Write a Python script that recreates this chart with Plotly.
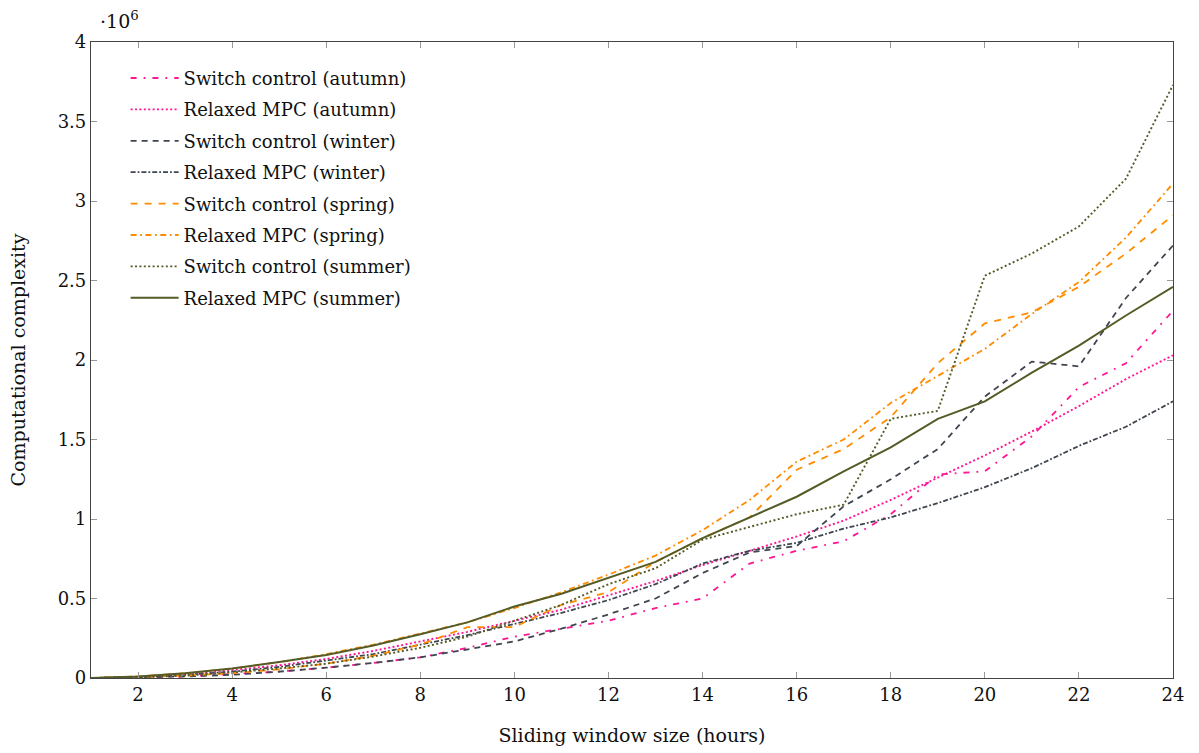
import plotly.graph_objects as go

hours = list(range(1, 25))

# values in units of 10^6
autumn_switch = [0, 0.003, 0.01, 0.025, 0.04, 0.065, 0.095, 0.13, 0.19, 0.26, 0.31, 0.36, 0.44, 0.50,
                 0.72, 0.80, 0.86, 1.03, 1.28, 1.30, 1.52, 1.83, 1.98, 2.31]
autumn_relaxed = [0, 0.005, 0.02, 0.05, 0.08, 0.12, 0.17, 0.23, 0.29, 0.36, 0.43, 0.52, 0.61, 0.71,
                  0.80, 0.89, 0.99, 1.12, 1.26, 1.40, 1.55, 1.71, 1.88, 2.03]
winter_switch = [0, 0.003, 0.01, 0.02, 0.04, 0.065, 0.095, 0.13, 0.18, 0.23, 0.31, 0.40, 0.50, 0.66,
                 0.79, 0.83, 1.08, 1.25, 1.44, 1.77, 1.99, 1.96, 2.39, 2.72]
winter_relaxed = [0, 0.005, 0.02, 0.04, 0.07, 0.11, 0.15, 0.21, 0.27, 0.34, 0.41, 0.49, 0.59, 0.72,
                  0.80, 0.85, 0.94, 1.01, 1.10, 1.20, 1.32, 1.46, 1.58, 1.74]
spring_switch = [0, 0.005, 0.015, 0.03, 0.055, 0.09, 0.14, 0.21, 0.32, 0.32, 0.46, 0.54, 0.73, 0.88,
                 1.01, 1.31, 1.44, 1.64, 1.98, 2.23, 2.30, 2.46, 2.67, 2.91]
spring_relaxed = [0, 0.01, 0.03, 0.06, 0.10, 0.15, 0.21, 0.28, 0.35, 0.44, 0.54, 0.65, 0.77, 0.93,
                  1.12, 1.36, 1.50, 1.73, 1.90, 2.07, 2.29, 2.49, 2.77, 3.11]
summer_switch = [0, 0.005, 0.015, 0.035, 0.06, 0.09, 0.135, 0.19, 0.26, 0.36, 0.46, 0.59, 0.69, 0.87,
                 0.95, 1.03, 1.09, 1.63, 1.68, 2.53, 2.67, 2.84, 3.14, 3.73]
summer_relaxed = [0, 0.01, 0.03, 0.06, 0.10, 0.145, 0.205, 0.275, 0.35, 0.45, 0.53, 0.63, 0.73, 0.88,
                  1.01, 1.14, 1.30, 1.45, 1.63, 1.74, 1.92, 2.09, 2.28, 2.46]

series_names = ["Switch control (autumn)", "Relaxed MPC (autumn)",
                "Switch control (winter)", "Relaxed MPC (winter)",
                "Switch control (spring)", "Relaxed MPC (spring)",
                "Switch control (summer)", "Relaxed MPC (summer)"]
series_values = [autumn_switch, autumn_relaxed, winter_switch, winter_relaxed,
                 spring_switch, spring_relaxed, summer_switch, summer_relaxed]

x_ticks = list(range(2, 25, 2))
y_ticks = [0, 0.5, 1, 1.5, 2, 2.5, 3, 3.5, 4]
y_tick_labels = ["0", "0.5", "1", "1.5", "2", "2.5", "3", "3.5", "4"]

PINK = "#FF1493"
GRAY = "#3F4650"
ORANGE = "#FF8C00"
OLIVE = "#545B26"

styles = [
    (PINK, "6px,7px,1.8px,7px", 1.8),
    (PINK, "2px,2.4px", 1.9),
    (GRAY, "6px,5px", 1.8),
    (GRAY, "5px,2px,1.8px,2px", 1.8),
    (ORANGE, "7px,7px", 1.8),
    (ORANGE, "6px,3.5px,1.8px,3.5px", 1.8),
    (OLIVE, "2px,2.4px", 1.9),
    (OLIVE, "solid", 2.0),
]

FONT = "DejaVu Serif, serif"

fig = go.Figure()
for i, (name, vals) in enumerate(zip(series_names, series_values)):
    color, dash, width = styles[i]
    fig.add_trace(go.Scatter(
        x=hours, y=vals, mode="lines", name=name,
        legendgroup="g%d" % i,
        line=dict(color=color, dash=dash, width=width),
    ))

axis_common = dict(
    showgrid=False, zeroline=False, showline=True, linecolor="#444", linewidth=1.2,
    mirror="ticks", ticks="inside", ticklen=6, tickcolor="#999", tickwidth=1,
    tickfont=dict(family=FONT, size=18, color="#111"),
)

fig.update_layout(
    width=1199, height=753,
    margin=dict(l=91, r=26, t=42, b=75),
    paper_bgcolor="white", plot_bgcolor="white",
    font=dict(family=FONT, size=18, color="#111"),
    showlegend=True,
    legend=dict(x=0.032, y=0.972, xanchor="left", yanchor="top",
                bgcolor="rgba(255,255,255,0)", borderwidth=0,
                font=dict(family=FONT, size=18, color="#111"),
                tracegroupgap=5, itemwidth=48),
    xaxis=dict(range=[1, 24], tickvals=x_ticks, **axis_common,
               title=dict(text="Sliding window size (hours)", font=dict(family=FONT, size=19), standoff=24)),
    yaxis=dict(range=[0, 4], tickvals=y_ticks, ticktext=y_tick_labels, **axis_common,
               title=dict(text="Computational complexity", font=dict(family=FONT, size=19), standoff=27)),
    annotations=[dict(text="·10<sup>6</sup>", x=0.0, y=1.0, xref="paper", yref="paper",
                      xanchor="left", yanchor="bottom", xshift=7, yshift=8, showarrow=False,
                      font=dict(family=FONT, size=19, color="#111"))],
)

fig.write_html("out.html", config={"displayModeBar": False},
               post_script="document.body.style.margin='0';document.body.style.padding='0';")
